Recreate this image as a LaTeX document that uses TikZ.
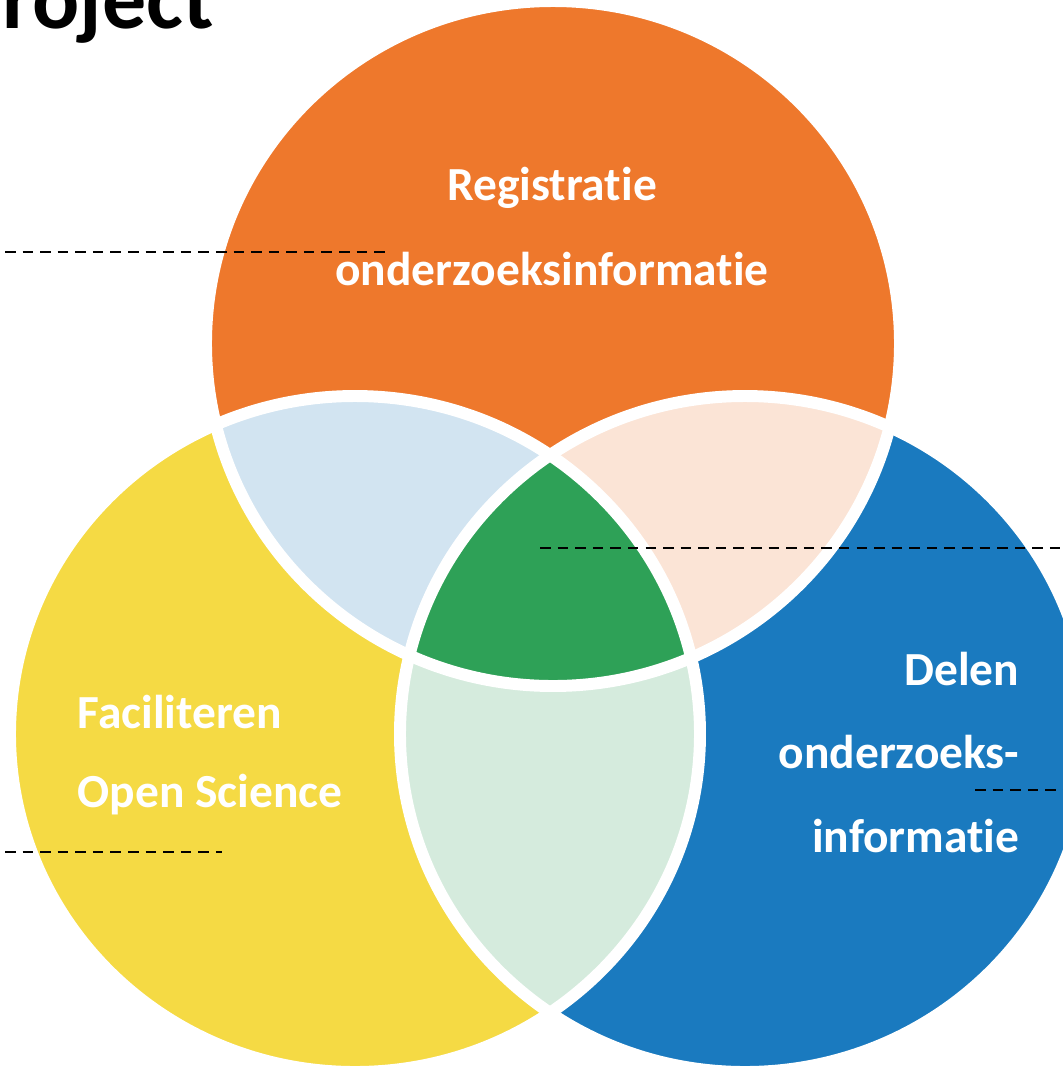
\documentclass[tikz,border=0pt]{standalone}
\usepackage{fontspec}
\setmainfont{Carlito}[Ligatures=NoCommon]
\usetikzlibrary{calc}
\definecolor{oranje}{RGB}{238,120,44}
\definecolor{geel}{RGB}{245,218,68}
\definecolor{blauw}{RGB}{26,122,191}
\definecolor{groen}{RGB}{46,161,87}
\definecolor{lichtblauw}{RGB}{210,228,241}
\definecolor{perzik}{RGB}{251,228,214}
\definecolor{lichtgroen}{RGB}{213,235,221}

\begin{document}
\begin{tikzpicture}[x=0.01cm,y=-0.01cm,
    rand/.style={draw=white,line width=3.4pt},
    tekst/.style={text=white,inner sep=0pt,font=\bfseries\fontsize{13.5}{16}\selectfont},
    stippel/.style={draw=black,line width=0.8pt,dash pattern=on 3pt off 2pt}]
    \clip (0,0) rectangle (1063,1072);
    % Middelpunten
    \coordinate (reg) at (553,343.5);
    \coordinate (fac) at (355,734);
    \coordinate (del) at (745,734);
    \def\bovenvorm{ellipse [x radius=347,y radius=342.5]}
    \def\ondervorm{ellipse [x radius=345,y radius=338]}
    % Cirkels
    \fill[oranje] (reg) \bovenvorm;
    \fill[geel] (fac) \ondervorm;
    \fill[blauw] (del) \ondervorm;
    % Overlappingen
    \begin{scope}
      \clip (reg) \bovenvorm;
      \fill[lichtblauw] (fac) \ondervorm;
      \fill[perzik] (del) \ondervorm;
    \end{scope}
    \begin{scope}
      \clip (fac) \ondervorm;
      \fill[lichtgroen] (del) \ondervorm;
    \end{scope}
    \begin{scope}
      \clip (reg) \bovenvorm;
      \clip (fac) \ondervorm;
      \fill[groen] (del) \ondervorm;
    \end{scope}
    % Witte randen
    \draw[rand] (reg) \bovenvorm;
    \draw[rand] (fac) \ondervorm;
    \draw[rand] (del) \ondervorm;
    % Titel
    \node[anchor=base west,inner sep=0pt,font=\bfseries\fontsize{25}{30}\selectfont] (titel) at (-45,28) {Project};
    % Stippellijnen
    \coordinate (s1a) at (5,252);    \coordinate (s1b) at (390,252);
    \coordinate (s2a) at (540,548);  \coordinate (s2b) at (1063,548);
    \coordinate (s3a) at (975,790);  \coordinate (s3b) at (1063,790);
    \coordinate (s4a) at (5,852);    \coordinate (s4b) at (222,852);
    \draw[stippel] (s1a) -- (s1b);
    \draw[stippel] (s2a) -- (s2b);
    \draw[stippel] (s3a) -- (s3b);
    \draw[stippel] (s4a) -- (s4b);
    % Teksten
    \node[tekst] (reg1) at (552,188) {Registratie};
    \node[tekst] (reg2) at (552,269) {onderzoeksinformatie};
    \node[tekst,anchor=west] (fac1) at (77,712) {Faciliteren};
    \node[tekst,anchor=west] (fac2) at (77,795) {Open Science};
    \node[tekst,anchor=east] (del1) at (1020,669) {Delen};
    \node[tekst,anchor=east] (del2) at (1020,752) {onderzoeks-};
    \node[tekst,anchor=east] (del3) at (1020,836) {informatie};
\end{tikzpicture}
\end{document}
